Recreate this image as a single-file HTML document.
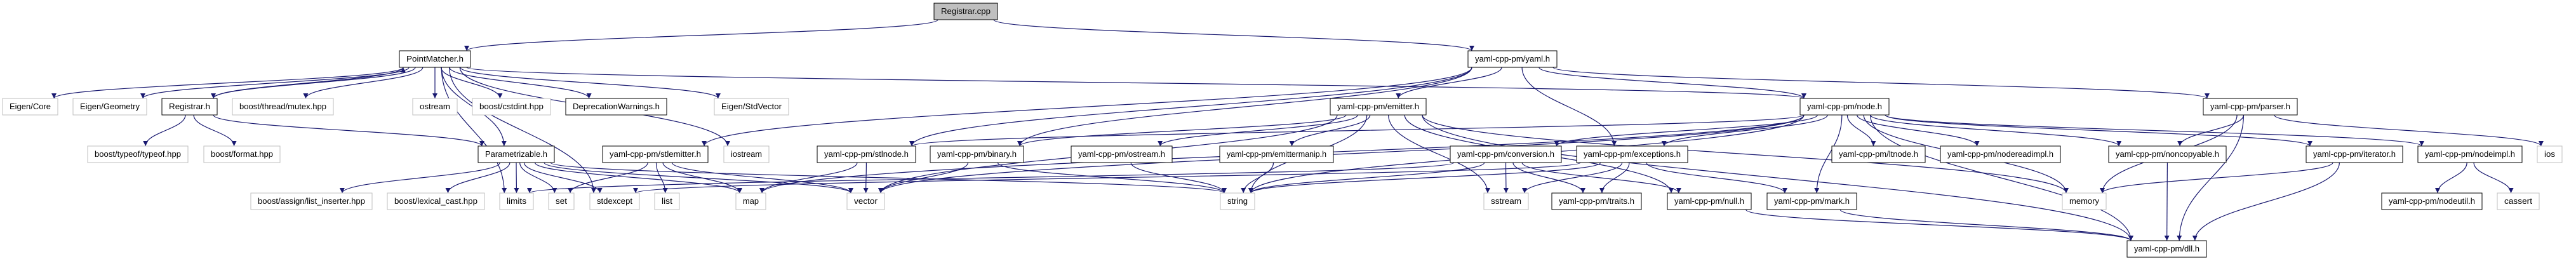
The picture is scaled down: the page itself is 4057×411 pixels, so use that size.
<!DOCTYPE html>
<html><head><meta charset="utf-8"><style>
html,body{margin:0;padding:0;background:#fff;width:4057px;height:411px;overflow:hidden}
svg text{font-family:"Liberation Sans",sans-serif;font-size:13px;fill:#000}
</style></head><body>
<svg id="g" xmlns="http://www.w3.org/2000/svg" width="4057" height="411" viewBox="0 0 4057 411">
<defs><marker id="ah" viewBox="0 0 10 10" refX="10" refY="5" markerWidth="10" markerHeight="8" markerUnits="userSpaceOnUse" orient="auto"><path d="M0,0 L10,5 L0,10 z" fill="#191970"/></marker></defs>
<g id="edges" fill="none" stroke="#191970" stroke-width="1.2"></g>
<g id="nodes">
<rect x="1471" y="5" width="100" height="26" fill="#bfbfbf" stroke="#000"/><text x="1521" y="22" text-anchor="middle">Registrar.cpp</text>
<rect x="629" y="80" width="112" height="26" fill="#fff" stroke="#000"/><text x="685" y="97" text-anchor="middle">PointMatcher.h</text>
<rect x="2312" y="80" width="140" height="26" fill="#fff" stroke="#000"/><text x="2382" y="97" text-anchor="middle">yaml-cpp-pm/yaml.h</text>
<rect x="4" y="155" width="87" height="26" fill="#fff" stroke="#bfbfbf"/><text x="47.5" y="172" text-anchor="middle">Eigen/Core</text>
<rect x="115" y="155" width="116" height="26" fill="#fff" stroke="#bfbfbf"/><text x="173" y="172" text-anchor="middle">Eigen/Geometry</text>
<rect x="255" y="155" width="87" height="26" fill="#fff" stroke="#000"/><text x="298.5" y="172" text-anchor="middle">Registrar.h</text>
<rect x="366" y="155" width="159" height="26" fill="#fff" stroke="#bfbfbf"/><text x="445.5" y="172" text-anchor="middle">boost/thread/mutex.hpp</text>
<rect x="650" y="155" width="70" height="26" fill="#fff" stroke="#bfbfbf"/><text x="685" y="172" text-anchor="middle">ostream</text>
<rect x="744" y="155" width="123" height="26" fill="#fff" stroke="#bfbfbf"/><text x="805.5" y="172" text-anchor="middle">boost/cstdint.hpp</text>
<rect x="891" y="155" width="159" height="26" fill="#fff" stroke="#000"/><text x="970.5" y="172" text-anchor="middle">DeprecationWarnings.h</text>
<rect x="1125" y="155" width="117" height="26" fill="#fff" stroke="#bfbfbf"/><text x="1183.5" y="172" text-anchor="middle">Eigen/StdVector</text>
<rect x="2095" y="155" width="151" height="26" fill="#fff" stroke="#000"/><text x="2170.5" y="172" text-anchor="middle">yaml-cpp-pm/emitter.h</text>
<rect x="2835" y="155" width="140" height="26" fill="#fff" stroke="#000"/><text x="2905" y="172" text-anchor="middle">yaml-cpp-pm/node.h</text>
<rect x="3470" y="155" width="148" height="26" fill="#fff" stroke="#000"/><text x="3544" y="172" text-anchor="middle">yaml-cpp-pm/parser.h</text>
<rect x="138" y="230" width="158" height="26" fill="#fff" stroke="#bfbfbf"/><text x="217" y="247" text-anchor="middle">boost/typeof/typeof.hpp</text>
<rect x="321" y="230" width="120" height="26" fill="#fff" stroke="#bfbfbf"/><text x="381" y="247" text-anchor="middle">boost/format.hpp</text>
<rect x="753" y="230" width="120" height="26" fill="#fff" stroke="#000"/><text x="813" y="247" text-anchor="middle">Parametrizable.h</text>
<rect x="949" y="230" width="166" height="26" fill="#fff" stroke="#000"/><text x="1032" y="247" text-anchor="middle">yaml-cpp-pm/stlemitter.h</text>
<rect x="1140" y="230" width="71" height="26" fill="#fff" stroke="#bfbfbf"/><text x="1175.5" y="247" text-anchor="middle">iostream</text>
<rect x="1287" y="230" width="155" height="26" fill="#fff" stroke="#000"/><text x="1364.5" y="247" text-anchor="middle">yaml-cpp-pm/stlnode.h</text>
<rect x="1465" y="230" width="147" height="26" fill="#fff" stroke="#000"/><text x="1538.5" y="247" text-anchor="middle">yaml-cpp-pm/binary.h</text>
<rect x="1687" y="230" width="159" height="26" fill="#fff" stroke="#000"/><text x="1766.5" y="247" text-anchor="middle">yaml-cpp-pm/ostream.h</text>
<rect x="1921" y="230" width="179" height="26" fill="#fff" stroke="#000"/><text x="2010.5" y="247" text-anchor="middle">yaml-cpp-pm/emittermanip.h</text>
<rect x="2284" y="230" width="175" height="26" fill="#fff" stroke="#000"/><text x="2371.5" y="247" text-anchor="middle">yaml-cpp-pm/conversion.h</text>
<rect x="2483" y="230" width="175" height="26" fill="#fff" stroke="#000"/><text x="2570.5" y="247" text-anchor="middle">yaml-cpp-pm/exceptions.h</text>
<rect x="2885" y="230" width="147" height="26" fill="#fff" stroke="#000"/><text x="2958.5" y="247" text-anchor="middle">yaml-cpp-pm/ltnode.h</text>
<rect x="3056" y="230" width="189" height="26" fill="#fff" stroke="#000"/><text x="3150.5" y="247" text-anchor="middle">yaml-cpp-pm/nodereadimpl.h</text>
<rect x="3321" y="230" width="185" height="26" fill="#fff" stroke="#000"/><text x="3413.5" y="247" text-anchor="middle">yaml-cpp-pm/noncopyable.h</text>
<rect x="3632" y="230" width="152" height="26" fill="#fff" stroke="#000"/><text x="3708" y="247" text-anchor="middle">yaml-cpp-pm/iterator.h</text>
<rect x="3808" y="230" width="164" height="26" fill="#fff" stroke="#000"/><text x="3890" y="247" text-anchor="middle">yaml-cpp-pm/nodeimpl.h</text>
<rect x="3996" y="230" width="39" height="26" fill="#fff" stroke="#bfbfbf"/><text x="4015.5" y="247" text-anchor="middle">ios</text>
<rect x="395" y="304" width="191" height="26" fill="#fff" stroke="#bfbfbf"/><text x="490.5" y="321" text-anchor="middle">boost/assign/list_inserter.hpp</text>
<rect x="610" y="304" width="153" height="26" fill="#fff" stroke="#bfbfbf"/><text x="686.5" y="321" text-anchor="middle">boost/lexical_cast.hpp</text>
<rect x="787" y="304" width="53" height="26" fill="#fff" stroke="#bfbfbf"/><text x="813.5" y="321" text-anchor="middle">limits</text>
<rect x="864" y="304" width="40" height="26" fill="#fff" stroke="#bfbfbf"/><text x="884" y="321" text-anchor="middle">set</text>
<rect x="929" y="304" width="78" height="26" fill="#fff" stroke="#bfbfbf"/><text x="968" y="321" text-anchor="middle">stdexcept</text>
<rect x="1031" y="304" width="39" height="26" fill="#fff" stroke="#bfbfbf"/><text x="1050.5" y="321" text-anchor="middle">list</text>
<rect x="1159" y="304" width="47" height="26" fill="#fff" stroke="#bfbfbf"/><text x="1182.5" y="321" text-anchor="middle">map</text>
<rect x="1334" y="304" width="59" height="26" fill="#fff" stroke="#bfbfbf"/><text x="1363.5" y="321" text-anchor="middle">vector</text>
<rect x="1922" y="304" width="54" height="26" fill="#fff" stroke="#bfbfbf"/><text x="1949" y="321" text-anchor="middle">string</text>
<rect x="2337" y="304" width="70" height="26" fill="#fff" stroke="#bfbfbf"/><text x="2372" y="321" text-anchor="middle">sstream</text>
<rect x="2444" y="304" width="141" height="26" fill="#fff" stroke="#000"/><text x="2514.5" y="321" text-anchor="middle">yaml-cpp-pm/traits.h</text>
<rect x="2626" y="304" width="132" height="26" fill="#fff" stroke="#000"/><text x="2692" y="321" text-anchor="middle">yaml-cpp-pm/null.h</text>
<rect x="2783" y="304" width="141" height="26" fill="#fff" stroke="#000"/><text x="2853.5" y="321" text-anchor="middle">yaml-cpp-pm/mark.h</text>
<rect x="3248" y="304" width="69" height="26" fill="#fff" stroke="#bfbfbf"/><text x="3282.5" y="321" text-anchor="middle">memory</text>
<rect x="3751" y="304" width="158" height="26" fill="#fff" stroke="#000"/><text x="3830" y="321" text-anchor="middle">yaml-cpp-pm/nodeutil.h</text>
<rect x="3933" y="304" width="66" height="26" fill="#fff" stroke="#bfbfbf"/><text x="3966" y="321" text-anchor="middle">cassert</text>
<rect x="3350" y="379" width="125" height="26" fill="#fff" stroke="#000"/><text x="3412.5" y="396" text-anchor="middle">yaml-cpp-pm/dll.h</text>
</g>
</svg>
<script>
var N={cpp:[1471,1571,5],PM:[629,741,80],yaml:[2312,2452,80],ECore:[4,91,155],EGeo:[115,231,155],RegH:[255,342,155],mutex:[366,525,155],ostream:[650,720,155],cstdint:[744,867,155],Depr:[891,1050,155],StdVec:[1125,1242,155],emitter:[2095,2246,155],node:[2835,2975,155],parser:[3470,3618,155],typeof:[138,296,230],format:[321,441,230],Param:[753,873,230],stlemitter:[949,1115,230],iostream:[1140,1211,230],stlnode:[1287,1442,230],binary:[1465,1612,230],ostreamh:[1687,1846,230],emanip:[1921,2100,230],conv:[2284,2459,230],exc:[2483,2658,230],ltnode:[2885,3032,230],nri:[3056,3245,230],noncopy:[3321,3506,230],iter:[3632,3784,230],nimpl:[3808,3972,230],ios:[3996,4035,230],listins:[395,586,304],lexical:[610,763,304],limits:[787,840,304],set:[864,904,304],stdexcept:[929,1007,304],list:[1031,1070,304],map:[1159,1206,304],vector:[1334,1393,304],string:[1922,1976,304],sstream:[2337,2407,304],traits:[2444,2585,304],"null":[2626,2758,304],mark:[2783,2924,304],memory:[3248,3317,304],nodeutil:[3751,3909,304],cassert:[3933,3999,304],dll:[3350,3475,379]};
var E={cpp:["PM","yaml"],PM:["ECore","EGeo","RegH","mutex","ostream","cstdint","Depr","StdVec","Param","limits","stdexcept","iostream","node"],RegH:["PM","typeof","format","Param"],Param:["listins","lexical","limits","set","stdexcept","map","vector","string"],yaml:["emitter","exc","node","parser","stlemitter","stlnode","binary"],emitter:["ostreamh","emanip","string","sstream","null","dll","memory","vector","binary"],stlemitter:["set","list","map","vector"],stlnode:["map","vector"],binary:["string","vector"],ostreamh:["string"],emanip:["string"],conv:["string","sstream","traits","null","limits"],exc:["sstream","traits","mark","string","stdexcept"],"null":["dll"],mark:["dll"],node:["conv","exc","iter","ltnode","nri","noncopy","memory","mark","dll","nimpl","string","map","vector","stlnode"],parser:["noncopy","dll","ios","memory"],noncopy:["dll"],iter:["dll","memory"],nimpl:["nodeutil","cassert"]};
var g=document.getElementById("edges"),s="";
for(var a in E){var A=N[a];E[a].forEach(function(b){var B=N[b];var ac=(A[0]+A[1])/2,bc=(B[0]+B[1])/2,sx,sy,tx,ty;
if(B[2]>A[2]){sx=Math.max(A[0]+6,Math.min(A[1]-6,ac+(bc-ac)*0.08));sy=A[2]+26;tx=Math.max(B[0]+6,Math.min(B[1]-6,bc+(ac-bc)*0.15));ty=B[2];}
else if(B[2]<A[2]){sx=Math.max(A[0]+6,Math.min(A[1]-6,ac+(bc-ac)*0.3));sy=A[2];tx=Math.max(B[0]+6,Math.min(B[1]-6,bc+(ac-bc)*0.3));ty=B[2]+26;}
else{sy=A[2]+13;ty=B[2]+13;if(bc>ac){sx=A[1];tx=B[0];}else{sx=A[0];tx=B[1];}}
var dy=(ty-sy)*0.45;
s+='<path d="M'+sx+','+sy+' C'+sx+','+(sy+dy)+' '+tx+','+(ty-dy)+' '+tx+','+ty+'" marker-end="url(#ah)"/>';});}
g.innerHTML=s;
var rs=document.querySelectorAll("#nodes rect"),ts=document.querySelectorAll("#nodes text");
for(var i=0;i<ts.length;i++){var w=+rs[i].getAttribute("width");var L=Math.max(10,w-22);ts[i].setAttribute("textLength",L);ts[i].setAttribute("lengthAdjust","spacingAndGlyphs");}
</script>
</body></html>
